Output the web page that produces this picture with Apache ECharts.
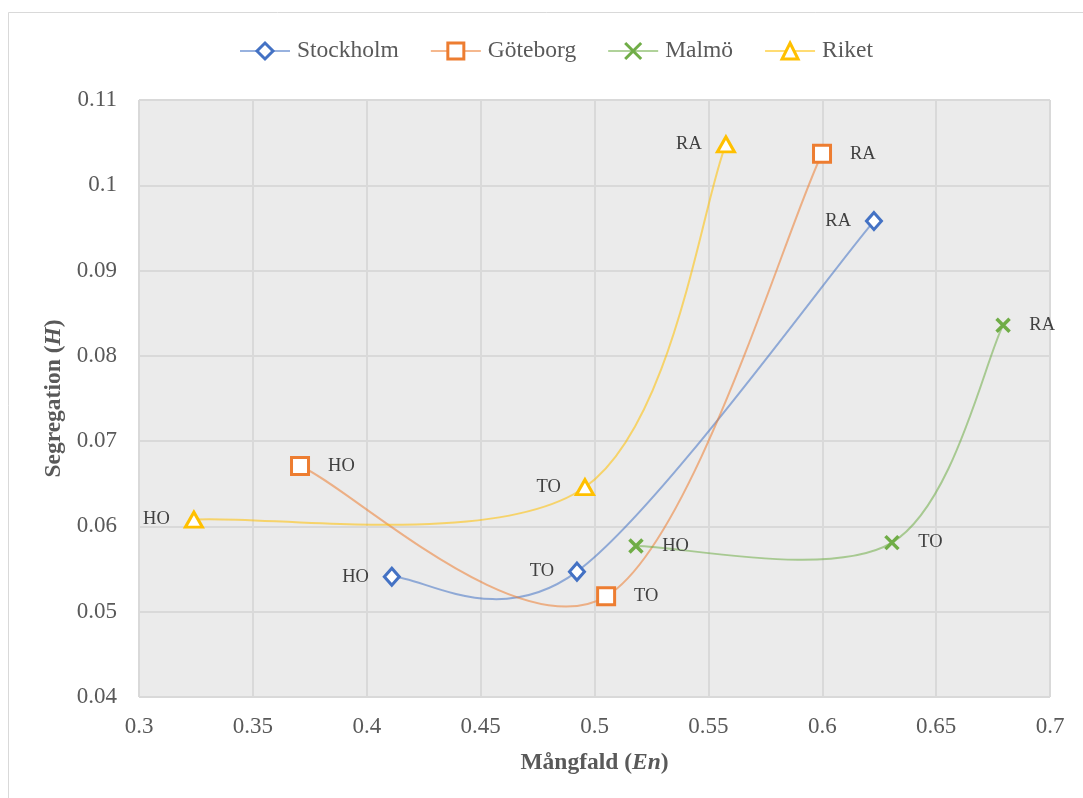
<!DOCTYPE html>
<html>
<head>
<meta charset="utf-8">
<script src="https://cdn.jsdelivr.net/npm/echarts@6/dist/echarts.min.js"></script>
<style>
html,body{margin:0;padding:0;background:#fff;}
#c{width:1083px;height:798px;}
</style>
</head>
<body>
<div id="c"></div>
<script>
const seriesNames = ['Stockholm', 'Göteborg', 'Malmö', 'Riket'];
const pointLabels = ['HO', 'TO', 'RA'];
const stockholmX = [0.4110, 0.4923, 0.6227];
const stockholmY = [0.0541, 0.0547, 0.0958];
const goteborgX = [0.3707, 0.5051, 0.5999];
const goteborgY = [0.0671, 0.0518, 0.1037];
const malmoX = [0.5182, 0.6306, 0.6794];
const malmoY = [0.0577, 0.0581, 0.0836];
const riketX = [0.3241, 0.4958, 0.5577];
const riketY = [0.0608, 0.0646, 0.1048];
const xTicks = [0.3, 0.35, 0.4, 0.45, 0.5, 0.55, 0.6, 0.65, 0.7];
const yTicks = [0.04, 0.05, 0.06, 0.07, 0.08, 0.09, 0.1, 0.11];

const colors = ['#4472C4', '#ED7D31', '#70AD47', '#FFC000'];
const lineColors = ['rgba(68,114,196,0.55)', 'rgba(237,125,49,0.55)', 'rgba(112,173,71,0.55)', 'rgba(255,192,0,0.55)'];
const symbols = ['diamond', 'rect', 'path://M0,0 L10,10 M10,0 L0,10', 'triangle'];
const symbolSizes = [[15, 17], 17, 13, [17, 15]];
const labelPos = ['left', 'right', 'right', 'left'];
const labelDist = [14, 18, 18, 14];
const xs = [stockholmX, goteborgX, malmoX, riketX];
const ys = [stockholmY, goteborgY, malmoY, riketY];
const serif = '"Liberation Serif", "DejaVu Serif", serif';

// Excel-style smoothed connecting line: Catmull-Rom (1/6) bezier through the data points, positioned by the axes.
function makeCurveSeries(i) {
  return {
    name: seriesNames[i] + ' kurva',
    type: 'custom',
    coordinateSystem: 'cartesian2d',
    data: xs[i].map((x, j) => [x, ys[i][j]]),
    encode: { x: 0, y: 1 },
    silent: true,
    z: 2,
    renderItem: function (params, api) {
      const k = params.dataIndex;
      const n = xs[i].length;
      if (k >= n - 1) return null;
      const P = xs[i].map((x, j) => api.coord([x, ys[i][j]]));
      const p0 = P[Math.max(k - 1, 0)], p1 = P[k], p2 = P[k + 1], p3 = P[Math.min(k + 2, n - 1)];
      return {
        type: 'bezierCurve',
        shape: {
          x1: p1[0], y1: p1[1], x2: p2[0], y2: p2[1],
          cpx1: p1[0] + (p2[0] - p0[0]) / 6, cpy1: p1[1] + (p2[1] - p0[1]) / 6,
          cpx2: p2[0] - (p3[0] - p1[0]) / 6, cpy2: p2[1] - (p3[1] - p1[1]) / 6
        },
        style: { stroke: lineColors[i], lineWidth: 2, fill: null }
      };
    }
  };
}

const pointSeries = seriesNames.map((name, i) => ({
  name: name,
  type: 'line',
  data: xs[i].map((x, j) => ({ value: [x, ys[i][j]], name: pointLabels[j] })),
  symbol: symbols[i],
  symbolSize: symbolSizes[i],
  showAllSymbol: true,
  lineStyle: { color: lineColors[i], width: 2, opacity: 0 },
  itemStyle: i === 2
    ? { color: colors[i], borderColor: colors[i], borderWidth: 3.5 }
    : { color: '#ffffff', borderColor: colors[i], borderWidth: 3 },
  label: {
    show: true,
    position: labelPos[i],
    distance: labelDist[i],
    formatter: p => p.name,
    fontFamily: serif,
    fontSize: 18.5,
    color: '#404040'
  },
  z: 5 + i
}));

const curveSeries = seriesNames.map((n, i) => makeCurveSeries(i));

const titleRich = {
  b: { fontFamily: serif, fontSize: 23.5, fontWeight: 'bold', color: '#595959' },
  i: { fontFamily: serif, fontSize: 23.5, fontWeight: 'bold', fontStyle: 'italic', color: '#595959' }
};

const chart = echarts.init(document.getElementById('c'), null, { renderer: 'canvas' });
chart.setOption({
  backgroundColor: '#ffffff',
  animation: false,
  graphic: [{
    type: 'rect',
    shape: { x: 8.5, y: 12.5, width: 1090, height: 800 },
    style: { fill: 'none', stroke: '#d9d9d9', lineWidth: 1 },
    z: -10
  }],
  legend: {
    top: 34,
    left: 234,
    itemWidth: 50,
    itemHeight: 20,
    itemGap: 31,
    textStyle: { fontFamily: serif, fontSize: 23.5, color: '#595959', padding: [0, 0, 0, 2] },
    data: seriesNames.map((n, i) => ({
      name: n,
      lineStyle: { color: lineColors[i], width: 2, opacity: 1 },
      itemStyle: { borderWidth: 3 }
    }))
  },
  grid: { left: 139, right: 33, top: 100, bottom: 101, show: true, backgroundColor: '#ebebeb', borderWidth: 0 },
  xAxis: {
    type: 'value',
    min: xTicks[0],
    max: xTicks[xTicks.length - 1],
    interval: 0.05,
    axisLine: { show: false },
    axisTick: { show: false },
    splitLine: { show: true, lineStyle: { color: '#d9d9d9', width: 2 } },
    axisLabel: { fontFamily: serif, fontSize: 23, color: '#595959', margin: 18, formatter: v => String(+v.toFixed(2)) },
    name: '{b|Mångfald (}{i|En}{b|)}',
    nameLocation: 'middle',
    nameGap: 54,
    nameTextStyle: { rich: titleRich }
  },
  yAxis: {
    type: 'value',
    min: yTicks[0],
    max: yTicks[yTicks.length - 1],
    interval: 0.01,
    axisLine: { show: false },
    axisTick: { show: false },
    splitLine: { show: true, lineStyle: { color: '#d9d9d9', width: 2 } },
    axisLabel: { fontFamily: serif, fontSize: 23, color: '#595959', margin: 22, formatter: v => String(+v.toFixed(2)) },
    name: '{b|Segregation (}{i|H}{b|)}',
    nameLocation: 'middle',
    nameGap: 69,
    nameTextStyle: { rich: titleRich }
  },
  series: curveSeries.concat(pointSeries)
});
</script>
</body>
</html>
